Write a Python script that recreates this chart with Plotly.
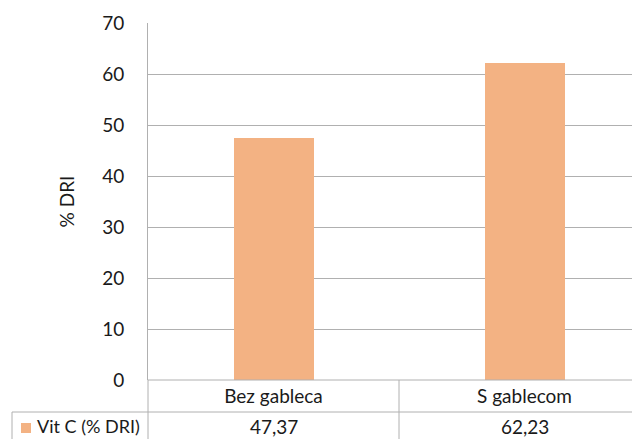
import plotly.graph_objects as go

categories = ["Bez gableca", "S gablecom"]
values = [47.37, 62.23]
series_name = "Vit C (% DRI)"
y_title = "% DRI"
y_ticks = [0, 10, 20, 30, 40, 50, 60, 70]

# the page body has an 8px margin; work in page pixels and shift by it
OFF = 8
W, H = 640 - OFF, 439 - OFF
L, R, T, B = 148 - OFF, 640 - OFF, 23 - OFF, 380 - OFF  # plot area in figure pixels
ROW1 = 412 - OFF
HB = 439 - OFF
LEFT_TABLE = 12 - OFF
CAT_W = 251.0  # pixels per category (plot continues past the right edge)

BAR = "#F3B283"
LINE = "#B0B0B0"
TXT = "#1A1A1A"
FONT = "Lato"
FS = 19

def py(p):  # figure pixel y -> paper y
    return (B - p) / (B - T)

def px(p):  # figure pixel x -> paper x
    return (p - L) / (R - L)

fig = go.Figure()
fig.add_trace(go.Bar(x=categories, y=values, name=series_name,
                     marker=dict(color=BAR, line=dict(width=0)), width=80 / CAT_W,
                     showlegend=False))

shapes = []
def line(x0, y0, x1, y1, xref="paper"):
    shapes.append(dict(type="line", xref=xref, yref="paper",
                       x0=px(x0) if xref == "paper" else x0, y0=py(y0),
                       x1=px(x1) if xref == "paper" else x1, y1=py(y1),
                       line=dict(color=LINE, width=1)))

# table lines
line(L, B, R + 10, B)
line(LEFT_TABLE, ROW1, R + 10, ROW1)
line(L, B, L, HB + 5)
line(0.5, B, 0.5, HB + 5, xref="x")
line(LEFT_TABLE, ROW1, LEFT_TABLE, HB + 5)
# legend key
shapes.append(dict(type="rect", xref="paper", yref="paper",
                   x0=px(21 - OFF), x1=px(31 - OFF), y0=py(423 - OFF), y1=py(433 - OFF),
                   fillcolor=BAR, line=dict(width=0)))

ymid = py(426 - OFF)
annotations = []
for c, v in zip(categories, values):
    annotations.append(dict(x=c, xref="x", y=ymid, yref="paper",
                            text=f"{v:.2f}".replace(".", ","), showarrow=False,
                            font=dict(family=FONT, size=FS, color=TXT),
                            xanchor="center", yanchor="middle"))
annotations.append(dict(x=px(35 - OFF), xref="paper", y=ymid, yref="paper",
                        text=series_name, showarrow=False, xanchor="left", yanchor="middle",
                        font=dict(family=FONT, size=18, color=TXT)))

fig.update_layout(
    width=W, height=H,
    margin=dict(l=L, r=W - R, t=T, b=H - B, pad=0, autoexpand=False),
    paper_bgcolor="white", plot_bgcolor="white",
    font=dict(family=FONT, size=FS, color=TXT),
    shapes=shapes, annotations=annotations,
    bargap=0,
)
fig.update_xaxes(range=[-0.5, -0.5 + (R - L) / CAT_W], showgrid=False, showline=False,
                 zeroline=False, ticks="", tickfont=dict(family=FONT, size=FS, color=TXT),
                 ticklabelstandoff=3, automargin=False)
fig.update_yaxes(range=[0, 70], tickvals=y_ticks, showgrid=True, gridcolor=LINE, gridwidth=1,
                 showline=True, linecolor=LINE, linewidth=1, zeroline=False,
                 ticks="", tickfont=dict(family=FONT, size=FS, color=TXT),
                 ticklabelstandoff=19, automargin=False,
                 title=dict(text=y_title, font=dict(family=FONT, size=FS, color=TXT), standoff=22))

fig.write_html("out.html")
